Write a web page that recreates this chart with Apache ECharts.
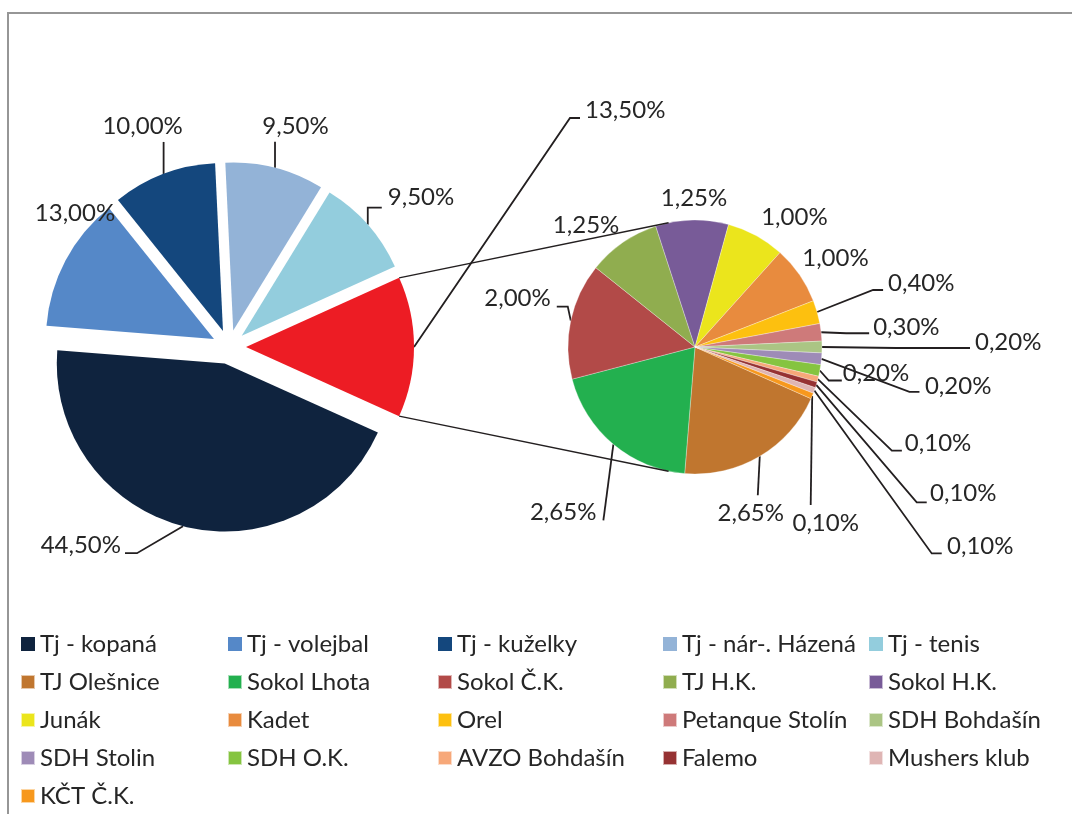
<!DOCTYPE html>
<html>
<head>
<meta charset="utf-8">
<script src="https://cdn.jsdelivr.net/npm/echarts@6/dist/echarts.min.js"></script>
<style>
  html, body { margin: 0; padding: 0; background: #fff; }
  #chart { width: 1072px; height: 814px; }
</style>
</head>
<body>
<div id="chart"></div>
<script>
// hlavní koláč
const mainNames = ['Tj - kopaná', 'Tj - volejbal', 'Tj - kuželky', 'Tj - nár-. Házená', 'Tj - tenis', 'Ostatní'];
const mainValues = [44.5, 13.0, 10.0, 9.5, 9.5, 13.5];
const mainColors = ['#0F233E', '#5588C8', '#14477D', '#93B3D7', '#93CDDD', '#ED1C24'];

// vedlejší koláč (rozpad položky "Ostatní")
const subNames = ['TJ Olešnice', 'Sokol Lhota', 'Sokol Č.K.', 'TJ H.K.', 'Sokol H.K.', 'Junák', 'Kadet', 'Orel',
  'Petanque Stolín', 'SDH Bohdašín', 'SDH Stolin', 'SDH O.K.', 'AVZO Bohdašín', 'Falemo', 'Mushers klub', 'KČT Č.K.'];
const subValues = [2.65, 2.65, 2.00, 1.25, 1.25, 1.00, 1.00, 0.40, 0.30, 0.20, 0.20, 0.20, 0.10, 0.10, 0.10, 0.10];
const subColors = ['#C0762F', '#23B04F', '#B24A48', '#90AD4F', '#785B98', '#EBE51C', '#E88B3E', '#FDC00F',
  '#CE7A7A', '#ABC584', '#9E8BB7', '#85C440', '#F7A879', '#963233', '#DFB5B4', '#F7981D'];

const sum = arr => arr.reduce((a, b) => a + b, 0);

// geometrie
const MAIN = { cx: 229, cy: 347, r: 168, off: 17 };
MAIN.start = -mainValues[5] / sum(mainValues) * 180;
const SUB = { cx: 695, cy: 347, r: 127, off: 0, start: -24 };

// umístění popisků vůči okraji výseče: lom čáry, vodorovný konec, text
const mainLabelPos = [
  { bend: [-46, 27], tail: -12, text: [-62, 19], align: 'right' },
  { text: [9.5, -47.4], align: 'center' },
  { bend: [0, -32], text: [-21, -48], align: 'center' },
  { bend: [0, -26], text: [20.5, -42], align: 'center' },
  { bend: [0, -17], tail: 14, text: [20, -27], align: 'left' },
  { bend: [156, -229], tail: 10, text: [171, -237], align: 'left' }
];
const subLabelPos = [
  { bend: [-2, 39], text: [-9, 57], align: 'center' },
  { bend: [-10, 76], text: [-17, 68], align: 'right' },
  { bend: [-3, -14], tail: -11, text: [-20, -22], align: 'right' },
  { text: [-36.7, -17.5], align: 'center' },
  { text: [2, -22], align: 'center' },
  { text: [38.5, -18.6], align: 'center' },
  { text: [36, -16.7], align: 'center' },
  { bend: [56, -22], tail: 10, text: [71, -29], align: 'left' },
  { bend: [25, 1], tail: 23, text: [52, -5], align: 'left' },
  { bend: [74, 1], tail: 74, text: [153, -5], align: 'left' },
  { bend: [88, 33], tail: 10, text: [103.5, 27], align: 'left' },
  { bend: [9, 10], tail: 13, text: [23, 2.5], align: 'left' },
  { bend: [74, 71.5], tail: 10, text: [87, 64], align: 'left' },
  { bend: [100.5, 117.5], tail: 10, text: [113.8, 108.5], align: 'left' },
  { bend: [117.4, 163], tail: 10, text: [132.7, 156.3], align: 'left' },
  { bend: [-1.5, 109], text: [13.5, 127], align: 'center' }
];

function midAngles(values, start) {
  const total = sum(values);
  const mids = [];
  let a = start;
  values.forEach(v => {
    const sweep = v / total * 360;
    mids.push(a - sweep / 2);
    a -= sweep;
  });
  return mids;
}

function makeLayout(geo, values, table) {
  const mids = midAngles(values, geo.start);
  return function (p) {
    const t = table[p.dataIndex];
    const rad = mids[p.dataIndex] * Math.PI / 180;
    const rr = geo.r + geo.off;
    const ex = geo.cx + rr * Math.cos(rad);
    const ey = geo.cy - rr * Math.sin(rad);
    const out = { x: ex + t.text[0], y: ey + t.text[1], align: t.align, verticalAlign: 'middle' };
    if (t.bend) {
      const bx = ex + t.bend[0], by = ey + t.bend[1];
      const pts = [[ex, ey], [bx, by]];
      if (t.tail) pts.push([bx + t.tail, by]);
      out.labelLinePoints = pts;
    }
    return out;
  };
}

const fmt = p => p.value.toFixed(2).replace('.', ',') + '%';
const textColor = '#262626';
const labelStyle = { show: true, position: 'outside', formatter: fmt, fontFamily: 'Lato', fontSize: 24, color: textColor };
const lineStyle = { color: '#231F20', width: 1.8 };

// spojnice mezi koláči
function connectorLines() {
  const mids = midAngles(mainValues, MAIN.start);
  const i = mainValues.length - 1;
  const half = mainValues[i] / sum(mainValues) * 180;
  const m = mids[i] * Math.PI / 180;
  const ox = MAIN.cx + MAIN.off * Math.cos(m), oy = MAIN.cy - MAIN.off * Math.sin(m);
  const lines = [];
  [1, -1].forEach(s => {
    const a = (mids[i] + s * half) * Math.PI / 180;
    const b = (180 - 78 * s) * Math.PI / 180;
    lines.push({
      type: 'line', silent: true, z: 10,
      shape: {
        x1: ox + MAIN.r * Math.cos(a), y1: oy - MAIN.r * Math.sin(a),
        x2: SUB.cx + SUB.r * Math.cos(b), y2: SUB.cy - SUB.r * Math.sin(b)
      },
      style: { stroke: '#231F20', lineWidth: 1.4 }
    });
  });
  return lines;
}

// legenda v pěti sloupcích
const legendNames = mainNames.slice(0, 5).concat(subNames);
const legendCols = [20, 227, 437, 662, 868];
const legends = legendCols.map((left, c) => ({
  orient: 'vertical',
  left: left,
  top: 632,
  padding: 0,
  itemWidth: 14,
  itemHeight: 14,
  itemGap: 14,
  icon: 'rect',
  selectedMode: false,
  data: legendNames.filter((n, i) => i % 5 === c),
  textStyle: { fontFamily: 'Lato', fontSize: 24, color: textColor, lineHeight: 24 }
}));

const chart = echarts.init(document.getElementById('chart'), null, { renderer: 'canvas' });
chart.setOption({
  animation: false,
  backgroundColor: '#fff',
  legend: legends,
  graphic: [
    { type: 'rect', silent: true, shape: { x: 8, y: 13, width: 1200, height: 1000 }, style: { fill: 'none', stroke: '#969696', lineWidth: 2 } }
  ].concat(connectorLines()),
  series: [
    {
      // vysunuté výseče hlavního koláče
      name: 'hlavni',
      type: 'pie',
      center: [MAIN.cx, MAIN.cy],
      radius: MAIN.r,
      startAngle: MAIN.start,
      clockwise: true,
      selectedMode: 'multiple',
      selectedOffset: MAIN.off,
      emphasis: { disabled: true },
      label: { show: false },
      labelLine: { show: false },
      itemStyle: { borderWidth: 0 },
      data: mainNames.map((n, i) => ({
        name: n, value: mainValues[i], selected: true,
        itemStyle: { color: mainColors[i] }
      }))
    },
    {
      name: 'vedlejsi',
      type: 'pie',
      center: [SUB.cx, SUB.cy],
      radius: SUB.r,
      startAngle: SUB.start,
      clockwise: true,
      avoidLabelOverlap: false,
      emphasis: { disabled: true },
      label: labelStyle,
      labelLine: { show: true, lineStyle: lineStyle },
      labelLayout: makeLayout(SUB, subValues, subLabelPos),
      itemStyle: { borderWidth: 0.5, borderColor: 'rgba(255,255,255,0.6)' },
      data: subNames.map((n, i) => ({
        name: n, value: subValues[i],
        itemStyle: { color: subColors[i] },
        labelLine: { show: !!subLabelPos[i].bend }
      }))
    },
    {
      // popisky hlavního koláče (stejná data, průhledné výseče)
      name: 'hlavni-popisky',
      type: 'pie',
      silent: true,
      center: [MAIN.cx, MAIN.cy],
      radius: MAIN.r,
      startAngle: MAIN.start,
      clockwise: true,
      avoidLabelOverlap: false,
      emphasis: { disabled: true },
      label: labelStyle,
      labelLine: { show: true, lineStyle: lineStyle },
      labelLayout: makeLayout(MAIN, mainValues, mainLabelPos),
      itemStyle: { color: 'rgba(0,0,0,0)', borderWidth: 0 },
      data: mainNames.map((n, i) => ({
        name: n, value: mainValues[i],
        labelLine: { show: !!mainLabelPos[i].bend }
      }))
    }
  ]
});
</script>
</body>
</html>
